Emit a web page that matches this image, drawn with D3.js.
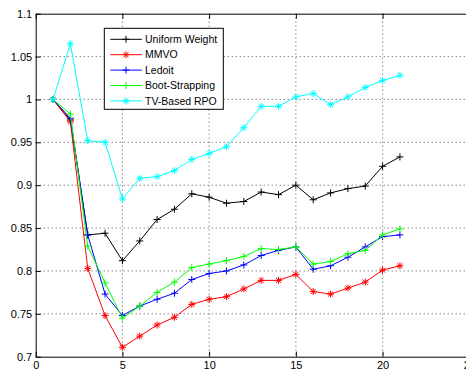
<!DOCTYPE html>
<html>
<head>
<meta charset="utf-8">
<script src="https://cdn.jsdelivr.net/npm/d3@7"></script>
<style>
  body { margin: 0; background: #fff; }
  svg { display: block; font-family: "Liberation Sans", Arial, sans-serif; }
</style>
</head>
<body>
<script>
// Data
// =================================
var periods = d3.range(1, 22);
var uniformWeight = [1.000, 0.976, 0.842, 0.844, 0.812, 0.835, 0.860, 0.872, 0.890, 0.886, 0.879,
    0.881, 0.892, 0.889, 0.900, 0.883, 0.891, 0.896, 0.899, 0.922, 0.933];
var mmvo = [1.000, 0.974, 0.803, 0.748, 0.711, 0.724, 0.737, 0.746, 0.761, 0.767, 0.770,
    0.779, 0.789, 0.789, 0.796, 0.776, 0.773, 0.780, 0.787, 0.801, 0.806];
var ledoit = [1.000, 0.978, 0.842, 0.773, 0.748, 0.759, 0.767, 0.774, 0.790, 0.797, 0.800,
    0.807, 0.818, 0.824, 0.828, 0.802, 0.806, 0.816, 0.828, 0.840, 0.842];
var bootStrapping = [1.000, 0.983, 0.829, 0.786, 0.745, 0.759, 0.775, 0.787, 0.804, 0.808, 0.812,
    0.817, 0.826, 0.825, 0.828, 0.808, 0.811, 0.820, 0.824, 0.842, 0.849];
var tvBasedRPO = [1.000, 1.065, 0.952, 0.950, 0.884, 0.908, 0.910, 0.917, 0.930, 0.937, 0.945,
    0.967, 0.992, 0.992, 1.003, 1.007, 0.994, 1.003, 1.014, 1.022, 1.028];

var seriesNames = ["Uniform Weight", "MMVO", "Ledoit", "Boot-Strapping", "TV-Based RPO"];
var seriesValues = [uniformWeight, mmvo, ledoit, bootStrapping, tvBasedRPO];
var seriesColors = ["#000000", "#ff0000", "#0000ff", "#00ff00", "#00ffff"];
var seriesMarkers = ["plus", "star", "plus", "plus", "star"];

var xTicks = [0, 5, 10, 15, 20, 25];
var yTicks = [0.7, 0.75, 0.8, 0.85, 0.9, 0.95, 1, 1.05, 1.1];

// SVG area
// =================================
var svgWidth = 466;
var svgHeight = 373;

var margin = { top: 13.7, right: -3.3, bottom: 16.3, left: 35.7 };

var chartWidth = svgWidth - margin.left - margin.right;
var chartHeight = svgHeight - margin.top - margin.bottom;

var svg = d3.select("body")
    .append("svg")
    .attr("width", svgWidth)
    .attr("height", svgHeight);

var chartGroup = svg.append("g")
    .attr("transform", `translate(${margin.left}, ${margin.top})`);

// Scales
// =================================
var xScale = d3.scaleLinear().domain([0, 25]).range([0, chartWidth]);
var yScale = d3.scaleLinear().domain([0.7, 1.1]).range([chartHeight, 0]);

// Dotted grid
// =================================
chartGroup.append("g")
    .selectAll("line")
    .data(xTicks.slice(1, -1))
    .enter()
    .append("line")
    .attr("x1", d => xScale(d))
    .attr("x2", d => xScale(d))
    .attr("y1", 0)
    .attr("y2", chartHeight)
    .attr("stroke", "#555")
    .attr("stroke-dasharray", "1,3");

chartGroup.append("g")
    .selectAll("line")
    .data(yTicks.slice(1, -1))
    .enter()
    .append("line")
    .attr("x1", 0)
    .attr("x2", chartWidth)
    .attr("y1", d => yScale(d))
    .attr("y2", d => yScale(d))
    .attr("stroke", "#555")
    .attr("stroke-dasharray", "1,3");

// Axes (ticks inside, matlab style)
// =================================
var bottomAxis = d3.axisBottom(xScale).tickValues(xTicks).tickSizeInner(-5).tickSizeOuter(0).tickPadding(5)
    .tickFormat(d3.format("~g"));
var leftAxis = d3.axisLeft(yScale).tickValues(yTicks).tickSizeInner(-5).tickSizeOuter(0).tickPadding(3.5)
    .tickFormat(d3.format("~g"));
var topAxis = d3.axisTop(xScale).tickValues(xTicks).tickSizeInner(-5).tickSizeOuter(0).tickFormat("");

var xAxis = chartGroup.append("g")
    .attr("transform", `translate(0, ${chartHeight})`)
    .call(bottomAxis);
var yAxis = chartGroup.append("g").call(leftAxis);
var tAxis = chartGroup.append("g").call(topAxis);

[xAxis, yAxis, tAxis].forEach(function (ax) {
    ax.select(".domain").attr("stroke", "#000");
    ax.selectAll(".tick line").attr("stroke", "#000");
    ax.selectAll("text").attr("fill", "#000").attr("font-size", 11)
        .attr("font-family", "'Liberation Sans', Arial, sans-serif");
});

// Lines and markers
// =================================
var line = d3.line()
    .x((d, i) => xScale(periods[i]))
    .y(d => yScale(d));

function drawMarker(g, type, color, size) {
    var s = size / 2;
    g.append("line").attr("x1", -s).attr("x2", s).attr("y1", 0).attr("y2", 0).attr("stroke", color);
    g.append("line").attr("x1", 0).attr("x2", 0).attr("y1", -s).attr("y2", s).attr("stroke", color);
    if (type === "star") {
        var k = s * 0.72;
        g.append("line").attr("x1", -k).attr("x2", k).attr("y1", -k).attr("y2", k).attr("stroke", color);
        g.append("line").attr("x1", -k).attr("x2", k).attr("y1", k).attr("y2", -k).attr("stroke", color);
    }
}

seriesValues.forEach(function (values, si) {
    chartGroup.append("path")
        .datum(values)
        .attr("fill", "none")
        .attr("stroke", seriesColors[si])
        .attr("stroke-width", 1)
        .attr("d", line);

    chartGroup.append("g")
        .selectAll("g")
        .data(values)
        .enter()
        .append("g")
        .attr("transform", (d, i) => `translate(${xScale(periods[i])}, ${yScale(d)})`)
        .each(function () {
            drawMarker(d3.select(this), seriesMarkers[si], seriesColors[si], 7);
        });
});

// Legend
// =================================
var legend = svg.append("g")
    .attr("transform", "translate(104.3, 28.3)");

legend.append("rect")
    .attr("width", 119)
    .attr("height", 81)
    .attr("fill", "#fff")
    .attr("stroke", "#000");

seriesNames.forEach(function (name, i) {
    var y = 11 + i * 15.4;
    legend.append("line")
        .attr("x1", 6).attr("x2", 37.5)
        .attr("y1", y).attr("y2", y)
        .attr("stroke", seriesColors[i]);
    var mk = legend.append("g").attr("transform", `translate(21.7, ${y})`);
    drawMarker(mk, seriesMarkers[i], seriesColors[i], 7);
    legend.append("text")
        .attr("x", 40.7)
        .attr("y", y)
        .attr("dy", "0.35em")
        .attr("font-size", 10.5)
        .attr("fill", "#000")
        .text(name);
});
</script>
</body>
</html>
